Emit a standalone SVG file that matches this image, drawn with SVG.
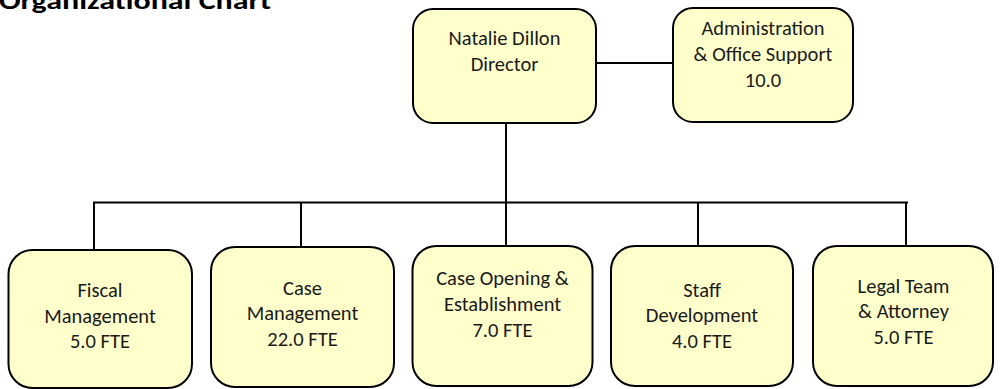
<svg xmlns="http://www.w3.org/2000/svg" width="1000" height="389" viewBox="0 0 1000 389">
  <style>
    .box { fill: #FFFFCC; stroke: #000; stroke-width: 2; }
    .lbl { font-family: Carlito, Calibri, Lato, "Noto Sans", sans-serif; font-size: 20.5px; fill: #1a1a1a; text-anchor: middle; }
    .title { font-family: Carlito, Calibri, Lato, "Noto Sans", sans-serif; font-size: 24px; font-weight: bold; fill: #000; }
    .wire { stroke: #000; stroke-width: 2; fill: none; }
  </style>
  <rect width="1000" height="389" fill="#fff"/>

  <text class="title" x="-1" y="9" textLength="272" lengthAdjust="spacingAndGlyphs">Organizational Chart</text>

  <!-- reporting lines -->
  <g id="connectors">
    <line class="wire" x1="596" y1="63" x2="673" y2="63"/>
    <line class="wire" x1="506" y1="123" x2="506" y2="245"/>
    <line class="wire" x1="93" y1="202.5" x2="908" y2="202.5"/>
    <line class="wire" x1="94" y1="202.5" x2="94" y2="250"/>
    <line class="wire" x1="301" y1="202.5" x2="301" y2="247"/>
    <line class="wire" x1="698" y1="202.5" x2="698" y2="246"/>
    <line class="wire" x1="906" y1="202.5" x2="906" y2="246"/>
  </g>

  <g id="director">
    <rect class="box" x="413" y="9" width="183" height="114" rx="20"/>
    <text class="lbl" x="504.5" y="45">Natalie Dillon</text>
    <text class="lbl" x="504.5" y="71">Director</text>
  </g>

  <g id="admin">
    <rect class="box" x="673" y="8" width="180" height="114" rx="20"/>
    <text class="lbl" x="763" y="35">Administration</text>
    <text class="lbl" x="763" y="61">&amp; Office Support</text>
    <text class="lbl" x="763" y="87">10.0</text>
  </g>

  <g id="fiscal">
    <rect class="box" x="8.5" y="250" width="183.5" height="138" rx="24"/>
    <text class="lbl" x="100" y="297">Fiscal</text>
    <text class="lbl" x="100" y="323">Management</text>
    <text class="lbl" x="100" y="348">5.0 FTE</text>
  </g>

  <g id="case-management">
    <rect class="box" x="211" y="247" width="183" height="140" rx="24"/>
    <text class="lbl" x="302.5" y="295">Case</text>
    <text class="lbl" x="302.5" y="320">Management</text>
    <text class="lbl" x="302.5" y="346">22.0 FTE</text>
  </g>

  <g id="case-opening">
    <rect class="box" x="412.5" y="246" width="180" height="140" rx="24"/>
    <text class="lbl" x="502.5" y="285">Case Opening &amp;</text>
    <text class="lbl" x="502.5" y="311">Establishment</text>
    <text class="lbl" x="502.5" y="337">7.0 FTE</text>
  </g>

  <g id="staff-development">
    <rect class="box" x="611" y="246" width="182" height="140" rx="24"/>
    <text class="lbl" x="702" y="297">Staff</text>
    <text class="lbl" x="702" y="322">Development</text>
    <text class="lbl" x="702" y="348">4.0 FTE</text>
  </g>

  <g id="legal-team">
    <rect class="box" x="813" y="246" width="180" height="140" rx="24"/>
    <text class="lbl" x="903.5" y="293">Legal Team</text>
    <text class="lbl" x="903.5" y="318">&amp; Attorney</text>
    <text class="lbl" x="903.5" y="344">5.0 FTE</text>
  </g>
</svg>
